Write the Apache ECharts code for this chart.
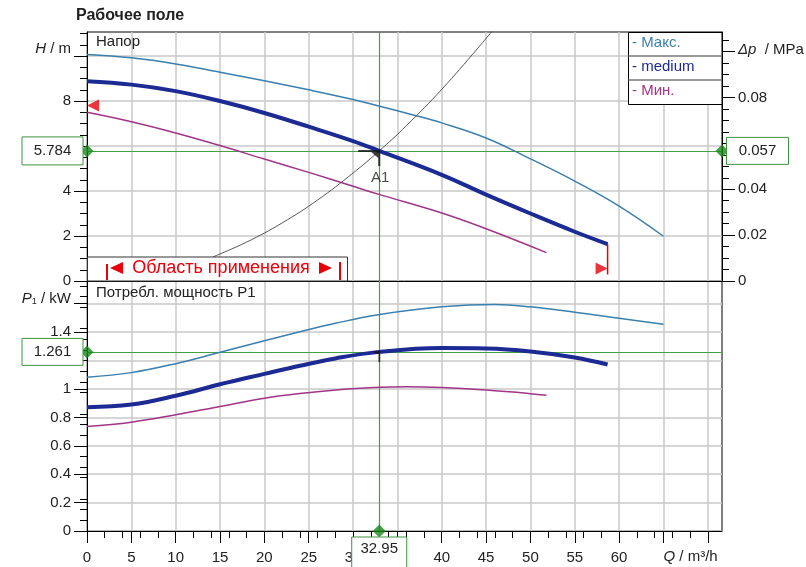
<!DOCTYPE html>
<html><head><meta charset="utf-8">
<script src="https://cdn.jsdelivr.net/npm/echarts@6/dist/echarts.min.js"></script>
<style>html,body{margin:0;padding:0;background:#fff}#c{width:806px;height:567px}</style>
</head><body><div id="c"></div>
<script>
// ---- data ----
const qMax  = [0, 5, 10, 15, 20, 25, 30, 33, 37, 40, 45, 50, 55, 60, 65];
const hMax  = [10.07, 9.92, 9.65, 9.28, 8.9, 8.5, 8.07, 7.77, 7.36, 7.03, 6.36, 5.43, 4.44, 3.33, 1.99];
const qMed  = [0, 5, 10, 15, 20, 25, 30, 32.95, 40, 45, 50, 55, 58.7];
const hMed  = [8.88, 8.73, 8.44, 8.0, 7.47, 6.86, 6.22, 5.784, 4.72, 3.84, 3.0, 2.19, 1.64];
const qMin  = [0, 5, 10, 15, 20, 25, 30, 33, 40, 45, 51.8];
const hMin  = [7.5, 7.08, 6.58, 6.02, 5.42, 4.83, 4.21, 3.84, 3.02, 2.32, 1.26];
const qSys  = [14.2, 18, 22, 26, 30, 32.95, 36, 40, 44, 46.5];
const hSys  = [1.07, 1.73, 2.58, 3.6, 4.8, 5.784, 6.9, 8.52, 10.32, 11.5];

const qPMax = [0, 5, 10, 15, 20, 24, 28, 33, 40, 46, 50, 55, 60, 65];
const pMax  = [1.083, 1.115, 1.178, 1.258, 1.34, 1.402, 1.462, 1.524, 1.578, 1.595, 1.578, 1.54, 1.497, 1.455];
const qPMed = [0, 5, 10, 15, 20, 24, 28, 32.95, 40, 45, 50, 55, 58.7];
const pMed  = [0.872, 0.89, 0.952, 1.033, 1.106, 1.163, 1.215, 1.261, 1.288, 1.285, 1.264, 1.222, 1.172];
const qPMin = [0, 5, 10, 15, 20, 24, 29, 33, 36, 40, 45, 50, 51.8];
const pMin  = [0.736, 0.766, 0.818, 0.877, 0.935, 0.968, 0.998, 1.012, 1.016, 1.01, 0.992, 0.967, 0.955];

const duty = {q: 32.95, h: 5.784, dp: 0.057, p: 1.261};
const rangeLeft  = [0, 7.8];
const rangeRight = [58.7, 0.56];
const rangeLine  = [[58.7, 1.64], [58.7, 0.29]];

const xTicks  = [0,5,10,15,20,25,30,35,40,45,50,55,60,65,70];
const xLabels = [0,5,10,15,20,25,30,35,40,45,50,55,60];
const hTicks  = [0,2,4,6,8,10];
const hLabels = [0,2,4,6,8];
const dpTicks = [0,0.02,0.04,0.06,0.08,0.1];
const dpLabels= [0,0.02,0.04,0.06,0.08];
const pTicks  = [0,0.2,0.4,0.6,0.8,1,1.2,1.4,1.6];
const pLabels = [0,0.2,0.4,0.6,0.8,1,1.2,1.4];
const xMax = 71.6, hTop = 11.07, dpTop = 11.07/101.97, pTop = 1.76;

// ---- styles ----
const FF = 'Liberation Sans, Arial, sans-serif';
const cMax = '#3b7fae', cMed = '#1c2a94', cMin = '#a23487', cSys = '#555555';
const green = '#45a045', greenDark = '#17881a', red = '#e8000b', gridC = '#c9c9c9';
const zip = (a, b) => a.map((v, i) => [v, b[i]]);

const lbl = {fontSize: 15, color: '#222', fontFamily: FF};
function yAx(grid, pos, min, max, ticks, labels, fmt, split) {
  return {
    type: 'value', gridIndex: grid, position: pos, min, max,
    axisLine: {show: true, lineStyle: {color: '#000', width: 1}},
    axisTick: {show: true, length: 13, lineStyle: {color: '#000'}, customValues: ticks},
    minorTick: {show: true, splitNumber: 4, length: 7, lineStyle: {color: '#000'}},
    axisLabel: Object.assign({margin: 16, customValues: labels, formatter: fmt}, lbl),
    splitLine: {show: split, lineStyle: {color: gridC, width: 1.5}},
    minorSplitLine: {show: false}
  };
}
const curve = (name, xi, yi, data, color, width, z) => ({
  name, type: 'line', xAxisIndex: xi, yAxisIndex: yi, data, smooth: 0.4,
  symbol: 'none', lineStyle: {color, width}, itemStyle: {color}, z
});

const medH = curve('medium', 0, 0, zip(qMed, hMed), cMed, 4, 4);
medH.markLine = {silent: true, symbol: ['none', 'none'], label: {show: false}, z: 3,
  lineStyle: {color: green, width: 1.2, type: 'solid'}, data: [{xAxis: duty.q}, {yAxis: duty.h}]};
const medP = curve('medium', 1, 2, zip(qPMed, pMed), cMed, 4, 4);
medP.markLine = {silent: true, symbol: ['none', 'none'], label: {show: false}, z: 3,
  lineStyle: {color: green, width: 1.2, type: 'solid'}, data: [{xAxis: duty.q}, {yAxis: duty.p}]};

const option = {
  animation: false,
  backgroundColor: '#fff',
  textStyle: {fontFamily: FF},
  title: {text: 'Рабочее поле', left: 76, top: 8, padding: 0,
          textStyle: {fontSize: 16, fontWeight: 'bold', color: '#222', fontFamily: FF}},
  legend: {
    left: 623, top: 32, orient: 'vertical', padding: [2, 0, 0, 4],
    itemWidth: 0, itemHeight: 17, itemGap: 7, icon: 'rect', selectedMode: false,
    itemStyle: {opacity: 0}, formatter: '- {name}',
    textStyle: {fontSize: 15, fontFamily: FF},
    data: [
      {name: 'Макс.', textStyle: {color: cMax, fontSize: 15}},
      {name: 'medium', textStyle: {color: cMed, fontSize: 15}},
      {name: 'Мин.', textStyle: {color: cMin, fontSize: 15}}
    ]
  },
  grid: [
    {left: 87, right: 84, top: 32, height: 249, show: true, borderColor: '#000', borderWidth: 1},
    {left: 87, right: 84, top: 281, height: 250, show: true, borderColor: '#000', borderWidth: 1}
  ],
  xAxis: [
    {type: 'value', gridIndex: 0, min: 0, max: xMax,
     axisLine: {show: true, lineStyle: {color: '#000'}},
     axisTick: {show: false, customValues: xTicks}, axisLabel: {show: false},
     splitLine: {show: true, lineStyle: {color: gridC, width: 1.5}}},
    {type: 'value', gridIndex: 1, min: 0, max: xMax,
     axisLine: {show: true, lineStyle: {color: '#000'}},
     axisTick: {show: true, length: 12, lineStyle: {color: '#000'}, customValues: xTicks},
     minorTick: {show: true, splitNumber: 5, length: 7, lineStyle: {color: '#000'}},
     axisLabel: Object.assign({margin: 19, customValues: xLabels}, lbl),
     splitLine: {show: true, lineStyle: {color: gridC, width: 1.5}}}
  ],
  yAxis: [
    yAx(0, 'left', 0, hTop, hTicks, hLabels, null, true),
    yAx(0, 'right', 0, dpTop, dpTicks, dpLabels, v => String(+v.toFixed(3)), false),
    yAx(1, 'left', 0, pTop, pTicks, pLabels, v => String(+v.toFixed(2)), true)
  ],
  series: [
    curve('Макс.', 0, 0, zip(qMax, hMax), cMax, 1.5, 3),
    medH,
    curve('Мин.', 0, 0, zip(qMin, hMin), cMin, 1.5, 3),
    curve('system', 0, 0, zip(qSys, hSys), cSys, 1, 3),
    curve('Макс.', 1, 2, zip(qPMax, pMax), cMax, 1.5, 3),
    medP,
    curve('Мин.', 1, 2, zip(qPMin, pMin), cMin, 1.5, 3),

    // operating range markers
    {name: 'range', type: 'scatter', xAxisIndex: 0, yAxisIndex: 0, clip: false, z: 6,
     itemStyle: {color: red},
     data: [
       {value: rangeLeft, symbol: 'path://M0,6L12,0L12,12Z', symbolSize: [12, 12], symbolOffset: [6, 0]},
       {value: rangeRight, symbol: 'path://M0,0L12,6L0,12Z', symbolSize: [12, 12], symbolOffset: [-6, 0]}
     ]},
    {name: 'rangeLine', type: 'line', xAxisIndex: 0, yAxisIndex: 0, data: rangeLine, symbol: 'none',
     lineStyle: {color: red, width: 1.5}, z: 6},

    // duty point marks
    {name: 'A1', type: 'scatter', xAxisIndex: 0, yAxisIndex: 0, clip: false, z: 7,
     data: [[duty.q, duty.h]], symbol: 'path://M0,0L22,0L22,16L20,16L20,2L0,2Z M13,2L20,2L20,8Z',
     symbolSize: [22, 16], symbolOffset: [-10, 7], itemStyle: {color: '#111'}},
    {name: 'A1label', type: 'scatter', xAxisIndex: 0, yAxisIndex: 0, z: 7,
     data: [[duty.q, duty.h]], symbolSize: 1, itemStyle: {color: 'transparent'},
     label: {show: true, formatter: 'A1', position: 'inside', offset: [1, 27],
             fontSize: 15, color: '#222', fontFamily: FF}},
    {name: 'A1p', type: 'scatter', xAxisIndex: 1, yAxisIndex: 2, clip: false, z: 7,
     data: [[duty.q, duty.p]], symbol: 'path://M0,0L7,0L7,11L5.3,11L5.3,3L0,1.6Z',
     symbolSize: [7, 11], symbolOffset: [-2.5, 4.5], itemStyle: {color: '#111'}},
    {name: 'diam0', type: 'scatter', xAxisIndex: 0, yAxisIndex: 0, clip: false, z: 8,
     data: [[0, duty.h], [xMax, duty.h]], symbol: 'diamond', symbolSize: 13, itemStyle: {color: greenDark}},
    {name: 'diam1', type: 'scatter', xAxisIndex: 1, yAxisIndex: 2, clip: false, z: 8,
     data: [[0, duty.p], [duty.q, 0]], symbol: 'diamond', symbolSize: 13, itemStyle: {color: greenDark}}
  ]
};

const chart = echarts.init(document.getElementById('c'), null, {renderer: 'canvas'});
chart.setOption(option);

// ---- annotations positioned through the axes ----
const g0 = (x, y) => chart.convertToPixel({gridIndex: 0}, [x, y]);
const g1 = (x, y) => chart.convertToPixel({gridIndex: 1}, [x, y]);
const d0 = g0(duty.q, duty.h), d1 = g1(duty.q, duty.p);
const left = g0(0, 0)[0], right = g0(xMax, 0)[0];
const top0 = g0(0, hTop)[1], bot0 = g0(0, 0)[1], bot1 = g1(0, 0)[1];
const y10 = g0(0, 10)[1], yDp = chart.convertToPixel({yAxisIndex: 1}, 0.1), yP16 = g1(0, 1.6)[1];
const x65 = g1(65, 0)[0];

const T = (x, y, text, o, z) => ({type: 'text', x, y, z: z || 20,
  style: Object.assign({text, fill: '#222', fontSize: 15, fontFamily: FF, align: 'left', verticalAlign: 'middle'}, o || {})});
const rich = {i: {fontStyle: 'italic', fontSize: 15, fontFamily: FF, fill: '#222'},
              n: {fontSize: 15, fontFamily: FF, fill: '#222'},
              s: {fontSize: 9, fontFamily: FF, fill: '#222', verticalAlign: 'bottom'}};
function vbox(x, y, w, h, text, ty) {
  return [
    {type: 'rect', z: 30, shape: {x, y, width: w, height: h}, style: {fill: '#fff', stroke: '#3f943f', lineWidth: 1}},
    T(x + w / 2, ty === undefined ? y + h / 2 : ty, text, {align: 'center'}, 31)
  ];
}

const graphics = [
  // axis names
  T(left - 16, y10 - 7, '{i|H}{n| / m}', {align: 'right', rich}),
  T(right + 16, yDp - 2, '{i|Δp}{n|  / MPa}', {rich}),
  T(left - 16, yP16 - 5, '{i|P}{s|1}{n| / kW}', {align: 'right', rich}),
  T(x65, 557, '{i|Q}{n| / m³/h}', {rich}),
  // panel titles
  T(left + 9, top0 + 10, 'Напор'),
  T(left + 9, bot0 + 12, 'Потребл. мощность P1'),
  // legend frame
  {type: 'rect', z: 3, shape: {x: 628.5, y: top0 + 0.5, width: right - 628.5, height: 72},
   style: {fill: '#fff', stroke: '#000', lineWidth: 1}},
  {type: 'line', z: 3, shape: {x1: 628.5, y1: top0 + 24, x2: right, y2: top0 + 24}, style: {stroke: '#777', lineWidth: 1.5}},
  {type: 'line', z: 3, shape: {x1: 628.5, y1: top0 + 48, x2: right, y2: top0 + 48}, style: {stroke: '#777', lineWidth: 1.5}},
  // application range box
  {type: 'rect', z: 15, shape: {x: left + 0.5, y: bot0 - 24, width: 260, height: 24},
   style: {fill: '#fff', stroke: '#333', lineWidth: 1}},
  {type: 'line', z: 16, shape: {x1: left + 20, y1: bot0 - 17, x2: left + 20, y2: bot0 - 1}, style: {stroke: red, lineWidth: 2}},
  {type: 'line', z: 16, shape: {x1: left + 253, y1: bot0 - 19, x2: left + 253, y2: bot0 - 1}, style: {stroke: red, lineWidth: 2}},
  {type: 'polygon', z: 16, shape: {points: [[left + 23, bot0 - 13], [left + 36, bot0 - 19], [left + 36, bot0 - 7]]}, style: {fill: red}},
  {type: 'polygon', z: 16, shape: {points: [[left + 245, bot0 - 13], [left + 232, bot0 - 19], [left + 232, bot0 - 7]]}, style: {fill: red}},
  T(left + 134, bot0 - 13, 'Область применения', {align: 'center', fill: red, fontSize: 18}),
  // value boxes
  ...vbox(22, d0[1] - 14, 61, 28, String(duty.h)),
  ...vbox(right + 4.5, d0[1] - 13.5, 62, 27, String(duty.dp)),
  ...vbox(22, d1[1] - 13.5, 61, 27, String(duty.p)),
  ...vbox(d0[0] - 27.5, bot1 + 6, 55, 34, String(duty.q), bot1 + 18)
];
chart.setOption({graphic: {elements: graphics}});
</script></body></html>
